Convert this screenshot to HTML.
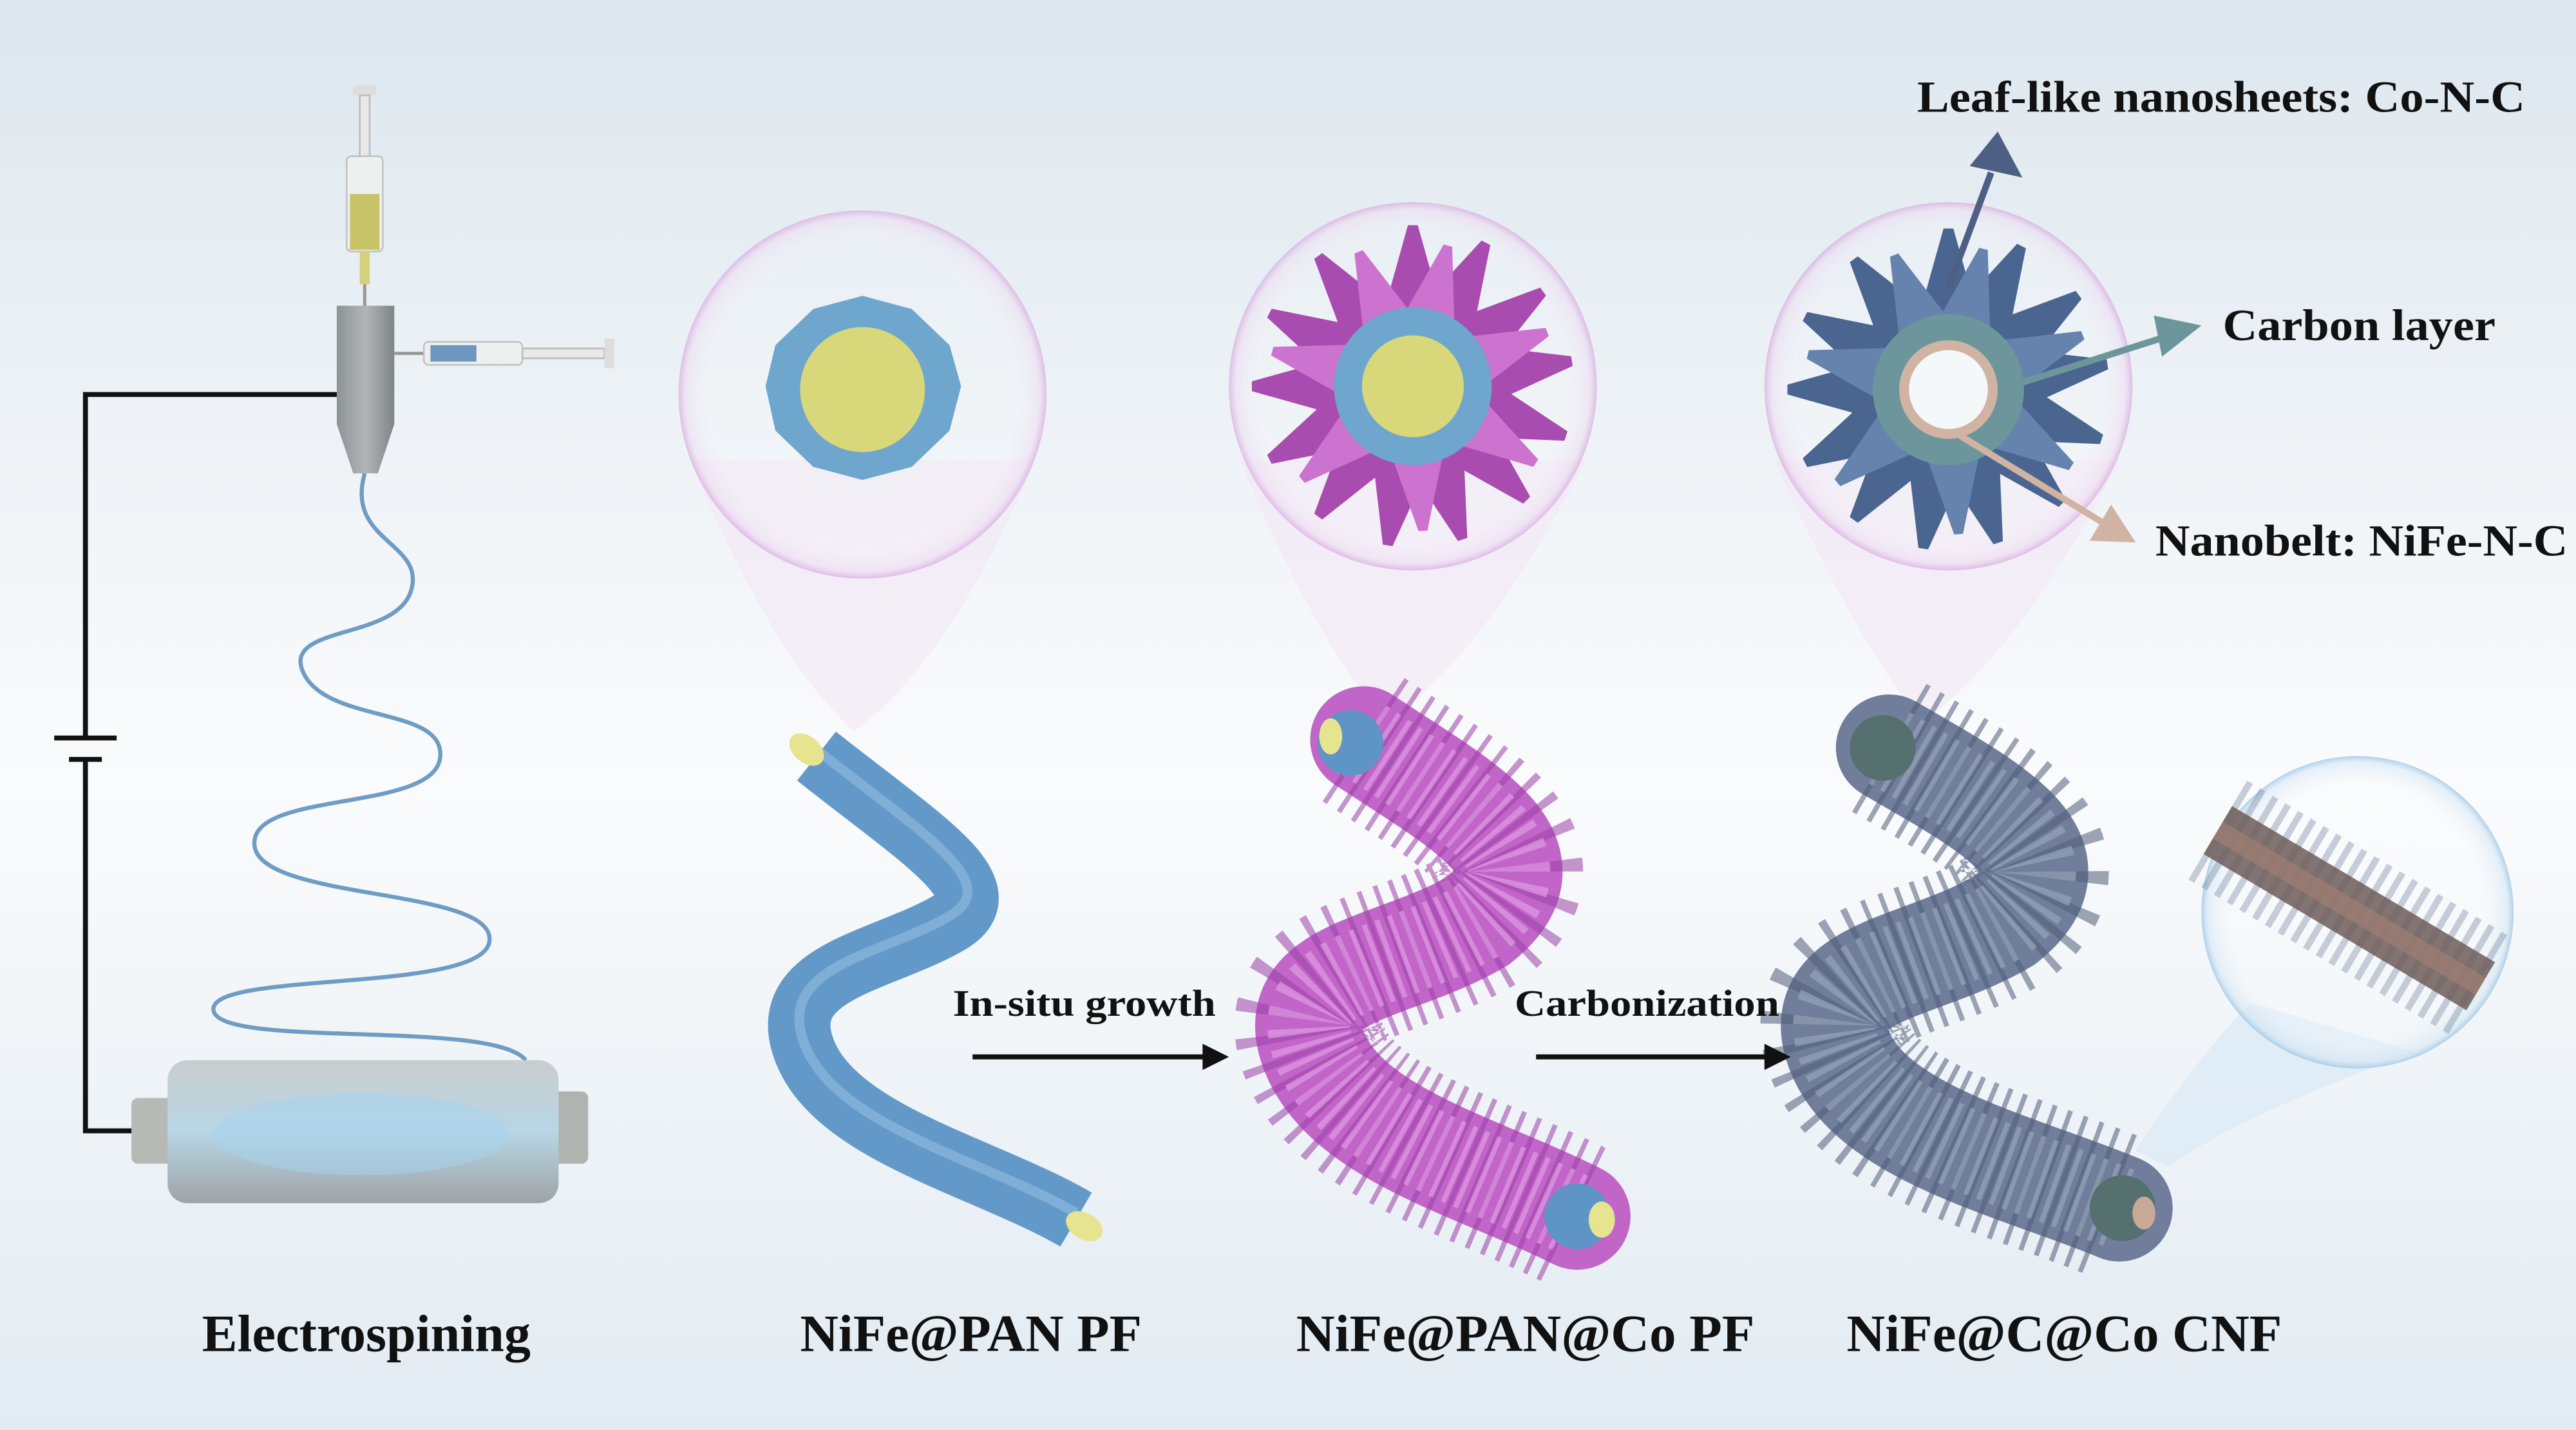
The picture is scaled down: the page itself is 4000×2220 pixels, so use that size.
<!DOCTYPE html>
<html><head><meta charset="utf-8"><style>
html,body{margin:0;padding:0;}
body{width:4000px;height:2220px;overflow:hidden;}
svg{display:block;}
text{font-family:"Liberation Serif",serif;font-weight:bold;fill:#111;}
</style></head><body>
<svg width="4000" height="2220" viewBox="0 0 1568 870" preserveAspectRatio="none" xmlns="http://www.w3.org/2000/svg">
<defs>
<linearGradient id="bg" x1="0" y1="0" x2="0" y2="1">
<stop offset="0" stop-color="#dde7ee"/><stop offset="0.4" stop-color="#f3f6f9"/><stop offset="0.55" stop-color="#fafbfc"/><stop offset="1" stop-color="#e2ebf2"/></linearGradient>
<radialGradient id="bub" cx="0.5" cy="0.5" r="0.5">
<stop offset="0.8" stop-color="#ffffff" stop-opacity="0.15"/><stop offset="0.96" stop-color="#eedcf2" stop-opacity="0.5"/><stop offset="1" stop-color="#d6a8de" stop-opacity="0.7"/></radialGradient>
<radialGradient id="bub2" cx="0.5" cy="0.5" r="0.5">
<stop offset="0.8" stop-color="#ffffff" stop-opacity="0.2"/><stop offset="0.96" stop-color="#cfe3f3" stop-opacity="0.5"/><stop offset="1" stop-color="#9cc6e6" stop-opacity="0.8"/></radialGradient>
<linearGradient id="drum" x1="0" y1="0" x2="0" y2="1">
<stop offset="0" stop-color="#c9cdce"/><stop offset="0.5" stop-color="#b7d6e6"/><stop offset="1" stop-color="#9ea4a6"/></linearGradient>
<linearGradient id="noz" x1="0" y1="0" x2="1" y2="0">
<stop offset="0" stop-color="#8e9396"/><stop offset="0.5" stop-color="#b1b5b7"/><stop offset="1" stop-color="#7f8487"/></linearGradient>
<polygon id="pet" points="-22,-30 22,-30 3,-98 -3,-98"/>
</defs>
<rect width="1568" height="870" fill="url(#bg)"/>

<!-- circuit -->
<polyline points="205,240 52,240 52,449" fill="none" stroke="#111" stroke-width="3"/>
<polyline points="52,462 52,688 85,688" fill="none" stroke="#111" stroke-width="3"/>
<line x1="33" y1="449" x2="71" y2="449" stroke="#111" stroke-width="3"/>
<line x1="42" y1="462" x2="62" y2="462" stroke="#111" stroke-width="3"/>

<!-- vertical syringe -->
<rect x="215" y="52" width="14" height="6" fill="#ddd"/>
<rect x="219" y="58" width="6" height="40" fill="#e8e8e8" stroke="#bbb"/>
<rect x="211" y="95" width="22" height="58" rx="3" fill="#eef0ef" stroke="#bfc3c3"/>
<rect x="213" y="118" width="18" height="34" fill="#c9c468"/>
<rect x="219" y="153" width="6" height="20" fill="#d6d07a"/>
<line x1="222" y1="173" x2="222" y2="186" stroke="#999" stroke-width="2"/>
<path d="M205,186 L240,186 L240,258 L230,288 L215,288 L205,258 Z" fill="url(#noz)"/>
<line x1="240" y1="215" x2="258" y2="215" stroke="#999" stroke-width="2"/>
<rect x="258" y="208" width="60" height="14" rx="3" fill="#eef0ef" stroke="#bfc3c3"/>
<rect x="262" y="210" width="28" height="10" fill="#6d97bf"/>
<rect x="318" y="212" width="50" height="6" fill="#e8e8e8" stroke="#bbb"/>
<rect x="368" y="206" width="6" height="18" fill="#ddd"/>
<path d="M222,288 C210,330 260,330 250,360 C240,390 170,380 185,410 C200,440 270,430 268,460 C266,495 150,480 155,515 C160,548 300,540 298,572 C296,605 125,590 130,615 C135,638 300,620 320,645" fill="none" stroke="#6f9cc4" stroke-width="2.5"/>
<rect x="80" y="668" width="30" height="40" rx="4" fill="#b7b9b7"/>
<rect x="330" y="664" width="28" height="44" rx="4" fill="#b1b3b1"/>
<rect x="102" y="645" width="238" height="87" rx="12" fill="url(#drum)"/>
<ellipse cx="220" cy="690" rx="90" ry="25" fill="#a6d4f0" opacity="0.5"/>

<!-- bubble cones -->
<path d="M420,280 Q470,400 520,445 Q580,400 630,280 Z" fill="#f2e4f4" opacity="0.5"/>
<path d="M755,280 Q800,390 845,440 Q910,390 965,280 Z" fill="#f2e4f4" opacity="0.5"/>
<path d="M1080,280 Q1130,390 1170,440 Q1235,390 1290,280 Z" fill="#f2e4f4" opacity="0.5"/>
<circle cx="525" cy="240" r="112" fill="url(#bub)"/>
<circle cx="860" cy="235" r="112" fill="url(#bub)"/>
<circle cx="1186" cy="235" r="112" fill="url(#bub)"/>

<polygon points="525,180 555,188 578,210 585,235 578,262 555,284 525,292 495,284 472,262 466,235 472,210 495,188" fill="#6ea6cd"/>
<circle cx="525" cy="237" r="38" fill="#d8d77a"/>

<g transform="translate(860,235)" fill="#a94cb0">
<use href="#pet" transform="rotate(0)"/><use href="#pet" transform="rotate(27)"/><use href="#pet" transform="rotate(54)"/><use href="#pet" transform="rotate(81)"/><use href="#pet" transform="rotate(108)"/><use href="#pet" transform="rotate(135)"/><use href="#pet" transform="rotate(162)"/><use href="#pet" transform="rotate(189)"/><use href="#pet" transform="rotate(216)"/><use href="#pet" transform="rotate(243)"/><use href="#pet" transform="rotate(270)"/><use href="#pet" transform="rotate(297)"/><use href="#pet" transform="rotate(324)"/>
<g fill="#cc72cf"><use href="#pet" transform="rotate(14) scale(0.9)"/><use href="#pet" transform="rotate(68) scale(0.9)"/><use href="#pet" transform="rotate(122) scale(0.9)"/><use href="#pet" transform="rotate(176) scale(0.9)"/><use href="#pet" transform="rotate(230) scale(0.9)"/><use href="#pet" transform="rotate(284) scale(0.9)"/><use href="#pet" transform="rotate(338) scale(0.9)"/></g>
<circle r="48" fill="#6ea6cd"/>
<circle r="31" fill="#d8d77a"/>
</g>

<g transform="translate(1186,237)" fill="#4a6590">
<use href="#pet" transform="rotate(0)"/><use href="#pet" transform="rotate(27)"/><use href="#pet" transform="rotate(54)"/><use href="#pet" transform="rotate(81)"/><use href="#pet" transform="rotate(108)"/><use href="#pet" transform="rotate(135)"/><use href="#pet" transform="rotate(162)"/><use href="#pet" transform="rotate(189)"/><use href="#pet" transform="rotate(216)"/><use href="#pet" transform="rotate(243)"/><use href="#pet" transform="rotate(270)"/><use href="#pet" transform="rotate(297)"/><use href="#pet" transform="rotate(324)"/>
<g fill="#6683ad"><use href="#pet" transform="rotate(14) scale(0.9)"/><use href="#pet" transform="rotate(68) scale(0.9)"/><use href="#pet" transform="rotate(122) scale(0.9)"/><use href="#pet" transform="rotate(176) scale(0.9)"/><use href="#pet" transform="rotate(230) scale(0.9)"/><use href="#pet" transform="rotate(284) scale(0.9)"/><use href="#pet" transform="rotate(338) scale(0.9)"/></g>
<circle r="46" fill="#6c969c"/>
<circle r="30" fill="#d1b3a3"/>
<circle r="24" fill="#f5f8fa"/>
</g>

<line x1="1186" y1="175" x2="1212" y2="105" stroke="#4e5f86" stroke-width="4"/>
<polygon points="1216,80 1231,108 1199,101" fill="#4e5f86"/>
<line x1="1230" y1="233" x2="1318" y2="205" stroke="#6c969c" stroke-width="4"/>
<polygon points="1340,198 1316,217 1311,192" fill="#6c969c"/>
<line x1="1193" y1="265" x2="1280" y2="318" stroke="#d1b3a3" stroke-width="4"/>
<polygon points="1300,330 1272,329 1285,307" fill="#d1b3a3"/>

<!-- fiber 1 -->
<path d="M497,460 C560,510 610,540 580,560 C540,585 470,590 490,640 C510,690 600,710 655,742" fill="none" stroke="#6399c9" stroke-width="38"/>
<path d="M497,456 C560,506 610,536 580,556 C540,581 470,586 490,636 C510,686 600,706 655,738" fill="none" stroke="#9cc4e4" stroke-width="6" opacity="0.5"/>
<ellipse cx="491" cy="456" rx="8" ry="12" transform="rotate(-50 491 456)" fill="#e6e48e"/>
<ellipse cx="660" cy="746" rx="8" ry="12" transform="rotate(-60 660 746)" fill="#e6e48e"/>

<!-- fiber 2 -->
<path d="M830,450 C890,490 950,520 900,560 C850,590 780,590 800,640 C820,690 900,710 960,740" fill="none" stroke="#c166c8" stroke-width="65" stroke-linecap="round"/>
<path d="M830,450 C890,490 950,520 900,560 C850,590 780,590 800,640 C820,690 900,710 960,740" fill="none" stroke="#9a3fa5" stroke-width="90" stroke-dasharray="3 7" opacity="0.55"/>
<path d="M830,450 C890,490 950,520 900,560 C850,590 780,590 800,640 C820,690 900,710 960,740" fill="none" stroke="#e09be4" stroke-width="50" stroke-dasharray="3 5" opacity="0.7"/>
<circle cx="822" cy="452" r="20" fill="#5f94c6"/><ellipse cx="810" cy="448" rx="7" ry="11" fill="#e6e48e"/>
<circle cx="960" cy="740" r="20" fill="#5f94c6"/><ellipse cx="975" cy="742" rx="8" ry="11" fill="#e6e48e"/>

<!-- fiber 3 -->
<path d="M1150,455 C1210,490 1270,520 1220,560 C1170,590 1100,590 1120,640 C1140,690 1230,710 1290,735" fill="none" stroke="#707e9c" stroke-width="65" stroke-linecap="round"/>
<path d="M1150,455 C1210,490 1270,520 1220,560 C1170,590 1100,590 1120,640 C1140,690 1230,710 1290,735" fill="none" stroke="#505c78" stroke-width="90" stroke-dasharray="3 7" opacity="0.55"/>
<path d="M1150,455 C1210,490 1270,520 1220,560 C1170,590 1100,590 1120,640 C1140,690 1230,710 1290,735" fill="none" stroke="#98a3bb" stroke-width="50" stroke-dasharray="3 5" opacity="0.7"/>
<circle cx="1146" cy="455" r="20" fill="#55706f"/>
<circle cx="1292" cy="735" r="20" fill="#55706f"/><ellipse cx="1305" cy="738" rx="7" ry="10" fill="#c8a896"/>

<!-- small bubble -->
<path d="M1300,700 Q1340,640 1370,610 L1470,640 Q1360,680 1320,710 Z" fill="#d7e8f5" opacity="0.6"/>
<circle cx="1435" cy="555" r="95" fill="url(#bub2)"/>
<path d="M1350,505 L1510,600" stroke="#6a7a98" stroke-width="70" opacity="0.35" stroke-dasharray="4 5"/>
<path d="M1350,505 L1510,600" stroke="#6e5d5a" stroke-width="34" opacity="0.85"/>
<path d="M1350,505 L1510,600" stroke="#a07f74" stroke-width="12" opacity="0.7"/>

<text x="580" y="618" font-size="23" textLength="160" lengthAdjust="spacingAndGlyphs">In-situ growth</text>
<line x1="592" y1="643" x2="735" y2="643" stroke="#111" stroke-width="3"/>
<polygon points="748,643 732,635 732,651" fill="#111"/>
<text x="922" y="618" font-size="23" textLength="161" lengthAdjust="spacingAndGlyphs">Carbonization</text>
<line x1="935" y1="643" x2="1077" y2="643" stroke="#111" stroke-width="3"/>
<polygon points="1090,643 1074,635 1074,651" fill="#111"/>

<text x="1167" y="68" font-size="27" textLength="370" lengthAdjust="spacingAndGlyphs">Leaf-like nanosheets: Co-N-C</text>
<text x="1353" y="207" font-size="27" textLength="166" lengthAdjust="spacingAndGlyphs">Carbon layer</text>
<text x="1312" y="338" font-size="27" textLength="251" lengthAdjust="spacingAndGlyphs">Nanobelt: NiFe-N-C</text>

<text x="123" y="822" font-size="32" textLength="200" lengthAdjust="spacingAndGlyphs">Electrospining</text>
<text x="487" y="822" font-size="32" textLength="208" lengthAdjust="spacingAndGlyphs">NiFe@PAN PF</text>
<text x="789" y="822" font-size="32" textLength="279" lengthAdjust="spacingAndGlyphs">NiFe@PAN@Co PF</text>
<text x="1124" y="822" font-size="32" textLength="265" lengthAdjust="spacingAndGlyphs">NiFe@C@Co CNF</text>
</svg>
</body></html>
